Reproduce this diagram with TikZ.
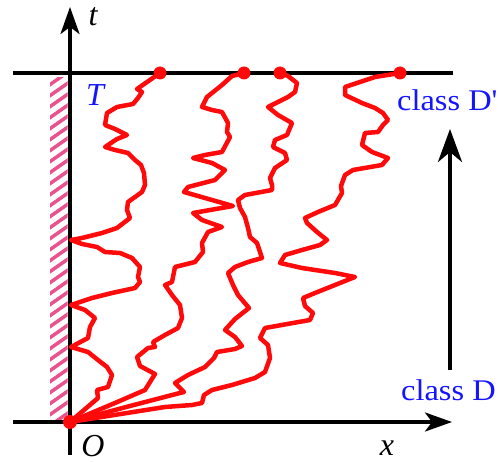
\documentclass[tikz,border=0pt]{standalone}
\usepackage{fontspec}
\setmainfont{Liberation Serif}
\usetikzlibrary{arrows.meta}
\definecolor{hatchpink}{RGB}{232,82,142}
\definecolor{walkred}{RGB}{255,10,10}
\definecolor{lblblue}{RGB}{20,20,255}
\tikzset{
  axisline/.style={line width=3.2pt, black},
  axisarrow/.style={axisline, -{Stealth[length=27pt,width=19pt,inset=7pt]}},
  walk/.style={line width=4.5pt, walkred, line join=round, line cap=round},
  enddot/.style={circle, fill=walkred, inner sep=0pt, minimum size=13pt},
  mathlbl/.style={inner sep=0pt, font=\fontsize{32}{32}\selectfont\itshape},
  classlbl/.style={inner sep=0pt, anchor=west, text=lblblue, font=\fontsize{30}{30}\selectfont},
  hatch/.style={line width=3.5pt, hatchpink}
}
\begin{document}
\begin{tikzpicture}[x=1pt,y=-1pt]
\useasboundingbox (0,0) rectangle (498,462);
% hatching
\begin{scope}
  \clip (50,78) rectangle (67.5,420);
  \foreach \k in {0,...,32} {
    \draw[hatch] (48,{86+11*\k}) -- (70,{70.6+11*\k});
  }
\end{scope}
% coordinates
\coordinate (o) at (70,422);
\coordinate (xl) at (13,422);
\coordinate (xr) at (452,422);
\coordinate (tb) at (70,455);
\coordinate (tt) at (70,7);
\coordinate (ll) at (13,73);
\coordinate (lr) at (453,73);
\coordinate (cb) at (450,370);
\coordinate (ct) at (450,129);
% axes
\draw[axisline] (ll) -- (lr);
\draw[axisarrow] (xl) -- (xr);
\draw[axisarrow] (tb) -- (tt);
\draw[line width=4pt, -{Stealth[length=33pt,width=24pt,inset=10pt]}] (cb) -- (ct);
% end dots
\node[enddot] (dA) at (160,73) {};
\node[enddot] (dB) at (244,73) {};
\node[enddot] (dC) at (280,73) {};
\node[enddot] (dD) at (400,73) {};
% walks
\draw[walk] (o) -- (98,398) -- (97,390) -- (108,387) -- (112,375) -- (107,367) -- (98,360) -- (88,352) -- (71,347) -- (88,338) -- (90,327) -- (95,318) -- (85,310) -- (71,305) -- (92,298) -- (112,293) -- (135,288) -- (140,282) -- (138,277) -- (140,267) -- (132,258) -- (120,253) -- (105,252) -- (97,247) -- (82,244) -- (71,240) -- (82,238) -- (102,233) -- (117,228) -- (130,218) -- (127,210) -- (128,202) -- (142,192) -- (145,185) -- (144,173) -- (141,165) -- (135,160) -- (128,153) -- (115,150) -- (105,147) -- (117,139) -- (127,135) -- (115,129) -- (105,125) -- (107,113) -- (117,107) -- (133,104) -- (138,98) -- (142,92) -- (137,89) -- (dA.center);
\draw[walk] (o) -- (115,403) -- (145,390) -- (150,382) -- (155,374) -- (140,366) -- (137,357) -- (148,348) -- (155,347) -- (153,342) -- (165,335) -- (178,328) -- (182,318) -- (180,305) -- (172,295) -- (165,285) -- (172,282) -- (175,267) -- (195,262) -- (203,252) -- (202,243) -- (208,232) -- (222,227) -- (202,220) -- (193,213) -- (233,206) -- (184,192) -- (188,187) -- (215,180) -- (225,170) -- (212,163) -- (193,158) -- (205,155) -- (222,152) -- (230,137) -- (227,132) -- (228,123) -- (222,112) -- (212,110) -- (202,107) -- (207,97) -- (222,85) -- (232,76) -- (dB.center);
\draw[walk] (o) -- (130,406) -- (176,394) -- (184,392) -- (178,386) -- (175,383) -- (188,375) -- (205,367) -- (214,358) -- (217,352) -- (235,349) -- (242,346) -- (235,337) -- (225,330) -- (235,319) -- (249,308) -- (238,295) -- (233,285) -- (228,273) -- (235,267) -- (248,262) -- (262,258) -- (257,243) -- (250,237) -- (248,228) -- (245,217) -- (240,208) -- (238,200) -- (245,195) -- (272,190) -- (272,185) -- (270,178) -- (275,168) -- (287,160) -- (285,153) -- (273,147) -- (275,140) -- (287,135) -- (292,123) -- (278,115) -- (268,107) -- (288,97) -- (295,92) -- (297,83) -- (288,76) -- (dC.center);
\draw[walk] (o) -- (165,407) -- (192,405) -- (202,403) -- (204,395) -- (212,390) -- (232,385) -- (255,378) -- (265,372) -- (270,358) -- (268,345) -- (260,338) -- (265,328) -- (293,323) -- (310,320) -- (313,313) -- (305,306) -- (303,298) -- (315,293) -- (335,285) -- (355,277) -- (335,273) -- (302,268) -- (280,263) -- (285,255) -- (302,250) -- (320,245) -- (327,240) -- (317,232) -- (307,223) -- (305,218) -- (318,212) -- (335,205) -- (342,193) -- (341,186) -- (345,175) -- (353,170) -- (382,165) -- (388,158) -- (372,152) -- (362,145) -- (365,133) -- (378,132) -- (383,125) -- (388,120) -- (383,113) -- (375,108) -- (362,103) -- (345,95) -- (345,87) -- (375,77) -- (dD.center);
\node[enddot, minimum size=14pt] (dO) at (o) {};
% labels
\node[mathlbl] (tlab) at (93,17) {t};
\node[mathlbl, text=lblblue] (Tlab) at (95,95) {T};
\node[mathlbl] (Olab) at (93,446) {O};
\node[mathlbl] (xlab) at (387,448) {x};
\node[classlbl] (cDp) at (397,100) {\scalebox{1.08}[1]{class D\textquotesingle}};
\node[classlbl] (cD) at (401,390) {\scalebox{1.08}[1]{class D}};
\end{tikzpicture}
\end{document}
